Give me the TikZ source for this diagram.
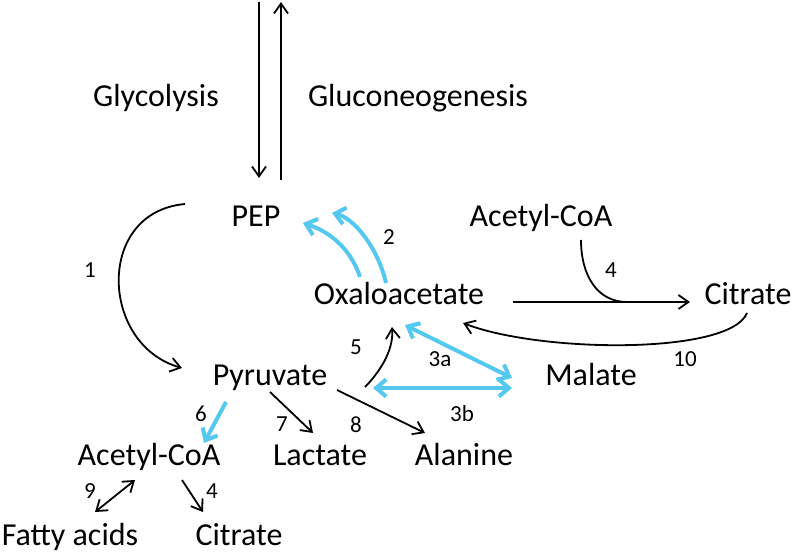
\documentclass[tikz,border=0pt]{standalone}
\usepackage{fontspec}
\setmainfont{Carlito}
\usetikzlibrary{arrows.meta,calc}
\definecolor{cyanarrow}{RGB}{85,200,240}
\begin{document}
\begin{tikzpicture}[x=1bp,y=-1bp,
  met/.style={font=\fontsize{32bp}{38bp}\selectfont, inner sep=0pt, anchor=base},
  num/.style={font=\fontsize{23bp}{27bp}\selectfont, inner sep=0pt, anchor=center},
  rx/.style={draw=black, line width=1.8bp, -{Straight Barb[length=10bp,width=14bp]}},
  rxb/.style={draw=black, line width=1.8bp, {Straight Barb[length=10bp,width=14bp]}-{Straight Barb[length=10bp,width=14bp]}},
  plain/.style={draw=black, line width=1.8bp},
  bl/.style={draw=cyanarrow, line width=4bp, -{Straight Barb[length=10bp,width=17bp]}},
  blb/.style={draw=cyanarrow, line width=4bp, {Straight Barb[length=10bp,width=17bp]}-{Straight Barb[length=10bp,width=17bp]}}]
\useasboundingbox (0,0) rectangle (793,556);
% metabolites
\node[met] (gly) at (156,107) {Glycolysis};
\node[met] (glu) at (418,107) {Gluconeogenesis};
\node[met] (pep) at (256,227) {PEP};
\node[met] (acoa1) at (541,227) {Acetyl-CoA};
\node[met] (oaa) at (399,305) {Oxaloacetate};
\node[met] (cit1) at (748,305) {Citrate};
\node[met] (mal) at (591,385) {Malate};
\node[met] (pyr) at (270,385) {Pyruvate};
\node[met] (acoa2) at (149,465) {Acetyl-CoA};
\node[met] (lac) at (320,465) {Lactate};
\node[met] (ala) at (464,465) {Alanine};
\node[met] (fa) at (70,545) {Fatty acids};
\node[met] (cit2) at (239,545) {Citrate};
% reaction numbers
\node[num] (l1) at (90,270) {1};
\node[num] (l2) at (389,237) {2};
\node[num] (l4a) at (611,270) {4};
\node[num] (l10) at (685,359) {10};
\node[num] (l5) at (356,347) {5};
\node[num] (l3a) at (440,359) {3a};
\node[num] (l3b) at (462,414) {3b};
\node[num] (l6) at (201,414) {6};
\node[num] (l7) at (282,424) {7};
\node[num] (l8) at (356,425) {8};
\node[num] (l9) at (90,491) {9};
\node[num] (l4b) at (212,491) {4};
% glycolysis / gluconeogenesis
\coordinate (topdown) at (259,2);
\coordinate (topup) at (281,2);
\draw[rx] (topdown) -- ($(pep.base)+(3,-49)$);
\draw[rx] ($(pep.base)+(25,-47)$) -- (topup);
% 1: PEP -> pyruvate
\draw[rx] ($(pep.base)+(-71,-23)$) .. controls +(-90,8) and +(-82,-23) .. ($(pyr.base)+(-88,-17)$);
% 2: OAA -> PEP (blue)
\draw[bl] ($(oaa.base)+(-39,-28)$) .. controls +(-10,-30) and +(25,8) .. ($(pep.base)+(47,-4)$);
\draw[bl] ($(oaa.base)+(-13,-22)$) .. controls +(-8,-35) and +(22,5) .. ($(pep.base)+(76,-14)$);
% 4: acetyl-CoA + OAA -> citrate
\draw[plain] ($(acoa1.base)+(40,13)$) .. controls +(0,35) and +(-30,0) .. ($(acoa1.base)+(86,75)$);
\draw[rx] ($(oaa.base)+(114,-3)$) -- ($(cit1.base)+(-58,-3)$);
% 10: citrate -> OAA
\draw[rx] ($(cit1.base)+(-1,8)$) .. controls +(-17,42) and +(77,30) .. ($(oaa.base)+(64,18)$);
% 5: pyruvate -> OAA
\draw[rx] ($(pyr.base)+(95,2)$) .. controls +(12,-12) and +(2,25) .. ($(oaa.base)+(-7,22)$);
% 3a, 3b
\draw[blb] ($(oaa.base)+(6,20)$) -- ($(mal.base)+(-79,-7)$);
\draw[blb] ($(pyr.base)+(103,3)$) -- ($(mal.base)+(-79,3)$);
% 7, 8
\draw[rx] ($(pyr.base)+(0,7)$) -- ($(lac.base)+(-7,-32)$);
\draw[rx] ($(pyr.base)+(67,5)$) -- ($(ala.base)+(-39,-32)$);
% 6
\draw[bl] ($(pyr.base)+(-44,17)$) -- ($(acoa2.base)+(55,-22)$);
% 9, 4
\draw[rxb] ($(fa.base)+(25,-33)$) -- ($(acoa2.base)+(-14,15)$);
\draw[rx] ($(acoa2.base)+(33,15)$) -- ($(cit2.base)+(-36,-33)$);
\end{tikzpicture}
\end{document}
